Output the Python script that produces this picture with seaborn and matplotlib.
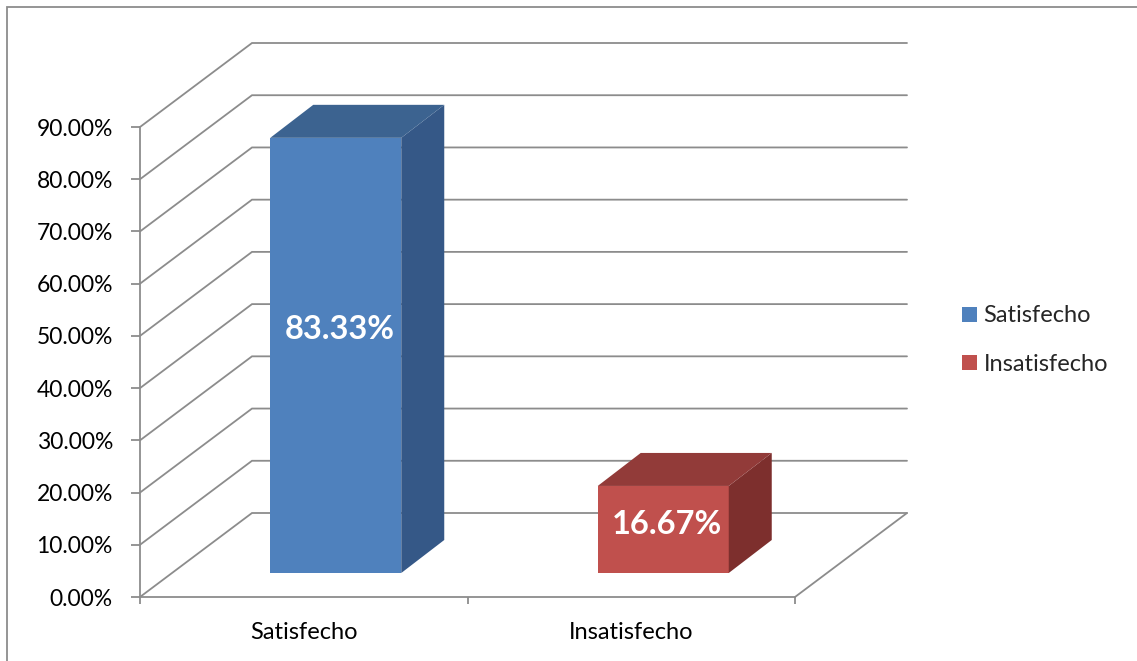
import matplotlib
matplotlib.use("Agg")
import matplotlib.pyplot as plt
import seaborn as sns
import numpy as np
from matplotlib.patches import Polygon, Patch, Rectangle
from matplotlib.transforms import ScaledTranslation
from matplotlib.ticker import FuncFormatter

# ---- data ----
categories = ["Satisfecho", "Insatisfecho"]
values = [0.8333, 0.1667]
value_labels = ["83.33%", "16.67%"]
yticks = [0.0, 0.1, 0.2, 0.3, 0.4, 0.5, 0.6, 0.7, 0.8, 0.9]

# ---- styles ----
front_colors = ["#4F81BD", "#C0504D"]
top_colors = ["#3C6390", "#923B39"]
side_colors = ["#355887", "#7D2F2D"]
grid_color = "#8C8C8C"
FONT = ["Lato", "DejaVu Sans"]

sns.set_theme(style="white")
plt.rcParams["font.family"] = FONT

W, H, DPI = 1137, 661, 100
fig = plt.figure(figsize=(W / DPI, H / DPI), dpi=DPI)
ax_left, ax_right, ax_bottom, ax_top = 140, 795, 597, 127
ax = fig.add_axes([ax_left / W, (H - ax_bottom) / H,
                   (ax_right - ax_left) / W, (ax_bottom - ax_top) / H])
ax.set_xlim(-0.5, 1.5)
ax.set_ylim(0, 0.9)

# pixel -> data conversions
px_x = 2.0 / (ax_right - ax_left)
px_y = 0.9 / (ax_bottom - ax_top)

# full depth of 3D box (pixels)
DX_full, DY_full = 112, 84
Dx, Dy = DX_full * px_x, DY_full * px_y

# walls / gridlines
for t in yticks:
    ax.plot([-0.5, -0.5 + Dx, 1.5 + Dx], [t, t + Dy, t + Dy],
            color=grid_color, lw=1.3, clip_on=False, zorder=1,
            solid_joinstyle="miter")
# floor right edge
ax.plot([1.5, 1.5 + Dx], [0, Dy], color=grid_color, lw=1.3, clip_on=False, zorder=1)

# bars
sns.barplot(x=categories, y=values, hue=categories, palette=front_colors,
            width=0.4, ax=ax, legend=False, saturation=1, zorder=3)

shift = ax.transData + ScaledTranslation(32 / DPI, 24 / DPI, fig.dpi_scale_trans)
label_shift = ax.transData + ScaledTranslation(36 / DPI, 24 / DPI, fig.dpi_scale_trans)
ddx, ddy = 43 * px_x, 33 * px_y
for i, p in enumerate(ax.patches):
    x0 = p.get_x()
    w = p.get_width()
    h = p.get_height()
    x1 = x0 + w
    p.set_transform(shift)
    p.set_clip_on(False)
    p.set_edgecolor("none")
    side = Polygon([(x1, 0), (x1 + ddx, ddy), (x1 + ddx, h + ddy), (x1, h)],
                   closed=True, facecolor=side_colors[i], edgecolor="none",
                   transform=shift, clip_on=False, zorder=3)
    top = Polygon([(x0, h), (x0 + ddx, h + ddy), (x1 + ddx, h + ddy), (x1, h)],
                  closed=True, facecolor=top_colors[i], edgecolor="none",
                  transform=shift, clip_on=False, zorder=3)
    ax.add_patch(side)
    ax.add_patch(top)
    ax.text(x0 + w / 2, h * 0.56, value_labels[i], transform=label_shift,
            ha="center", va="center", color="white", fontsize=23.5,
            fontweight="bold", zorder=5, clip_on=False, family=FONT)

# axes styling
for s in ["top", "right"]:
    ax.spines[s].set_visible(False)
for s in ["left", "bottom"]:
    ax.spines[s].set_color(grid_color)
    ax.spines[s].set_linewidth(1.3)
    ax.spines[s].set_zorder(2)

ax.set_yticks(yticks)
ax.yaxis.set_major_formatter(FuncFormatter(lambda v, _: f"{v * 100:.2f}%"))
ax.tick_params(axis="y", direction="out", length=6.5, width=1.3, color=grid_color,
               pad=13, labelsize=16.5, left=True, labelcolor="black")

ax.set_xticks([-0.5, 0.5, 1.5])
ax.set_xticklabels([])
ax.set_xticks([0, 1], minor=True)
ax.set_xticklabels(categories, minor=True)
ax.tick_params(axis="x", which="major", direction="out", length=5, width=1.3,
               color=grid_color, bottom=True)
ax.tick_params(axis="x", which="minor", length=0, pad=18, labelsize=17,
               labelcolor="black")
ax.set_xlabel("")
ax.set_ylabel("")
ax.grid(False)

# legend
handles = [Patch(facecolor=c, edgecolor="none") for c in front_colors]
fig.legend(handles, categories, loc="center left",
           bbox_to_anchor=(953 / W, (H - 340) / H), frameon=False,
           fontsize=17, handlelength=0.6, handleheight=0.6, handletextpad=0.3,
           labelspacing=1.15, borderaxespad=0)

# chart border (left & top visible)
fig.patches.append(Rectangle((7 / W, -0.05), 1.2, (H - 7) / H + 0.05,
                             transform=fig.transFigure, fill=False,
                             edgecolor="#8C8C8C", lw=1.3))

fig.savefig("out.png", dpi=DPI)
